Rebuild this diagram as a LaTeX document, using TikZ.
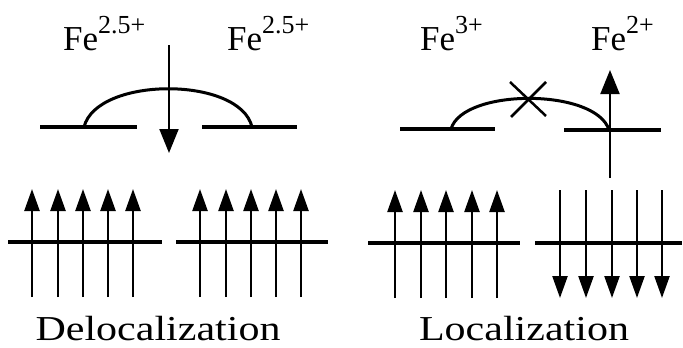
\documentclass[tikz,border=0pt]{standalone}
\usepackage{fontspec}
\setmainfont{Liberation Serif}
\newfontfamily\capfont[FakeStretch=1.2]{Liberation Serif}
\usetikzlibrary{arrows.meta}

\newcommand{\ionlabel}[2]{#1\raisebox{17pt}{\fontsize{26}{26}\selectfont #2}}

\begin{document}
\begin{tikzpicture}[x=1pt,y=-1pt,
  orbit/.style={line width=4pt},
  bond/.style={line width=3pt},
  spin/.style={line width=2.4pt,-{Triangle[width=15pt,length=22pt]}},
  bigspin/.style={line width=2pt,-{Triangle[width=19pt,length=24pt]}},
  ion/.style={anchor=base west,inner sep=0pt,font=\fontsize{35}{35}\selectfont},
  caption/.style={anchor=base,inner sep=0pt,font=\capfont\fontsize{35}{35}\selectfont}]
  \useasboundingbox (0,0) rectangle (683,348);

  % delocalized pair
  \node[ion] (feA) at (63,50) {\ionlabel{Fe}{2.5+}};
  \node[ion] (feB) at (227,50) {\ionlabel{Fe}{2.5+}};
  \draw[orbit] (40,127) -- (137,127);
  \draw[orbit] (202,127) -- (297,127);
  \draw[bond] (84,127) .. controls (97,76) and (240,76) .. (252,127);
  \draw[bigspin] (169,45) -- (169,153);

  % localized pair
  \node[ion] (feC) at (420,50) {\ionlabel{Fe}{3+}};
  \node[ion] (feD) at (591,50) {\ionlabel{Fe}{2+}};
  \draw[orbit] (400,129) -- (495,129);
  \draw[orbit] (564,130) -- (661,130);
  \draw[bond] (451,129) .. controls (463,88) and (596,88) .. (609,130);
  \draw[line width=2.5pt] (510,82) -- (546,116) (546,82) -- (511,117);
  \draw[bigspin] (610,178) -- (610,70);

  % core spins
  \draw[orbit] (8,242) -- (162,242);
  \draw[orbit] (176,242) -- (328,242);
  \draw[orbit] (368,243) -- (520,243);
  \draw[orbit] (535,243) -- (682,243);
  \foreach \x in {32,58,83,108,133,200,226,251,276,301}
    \draw[spin] (\x,297) -- (\x,189);
  \foreach \x in {395,421,446,472,497}
    \draw[spin] (\x,298) -- (\x,190);
  \foreach \x in {560,586,612,637,662}
    \draw[spin] (\x,190) -- (\x,298);

  \node[caption] (deloc) at (158,340) {Delocalization};
  \node[caption] (loc) at (524,340) {Localization};
\end{tikzpicture}
\end{document}
